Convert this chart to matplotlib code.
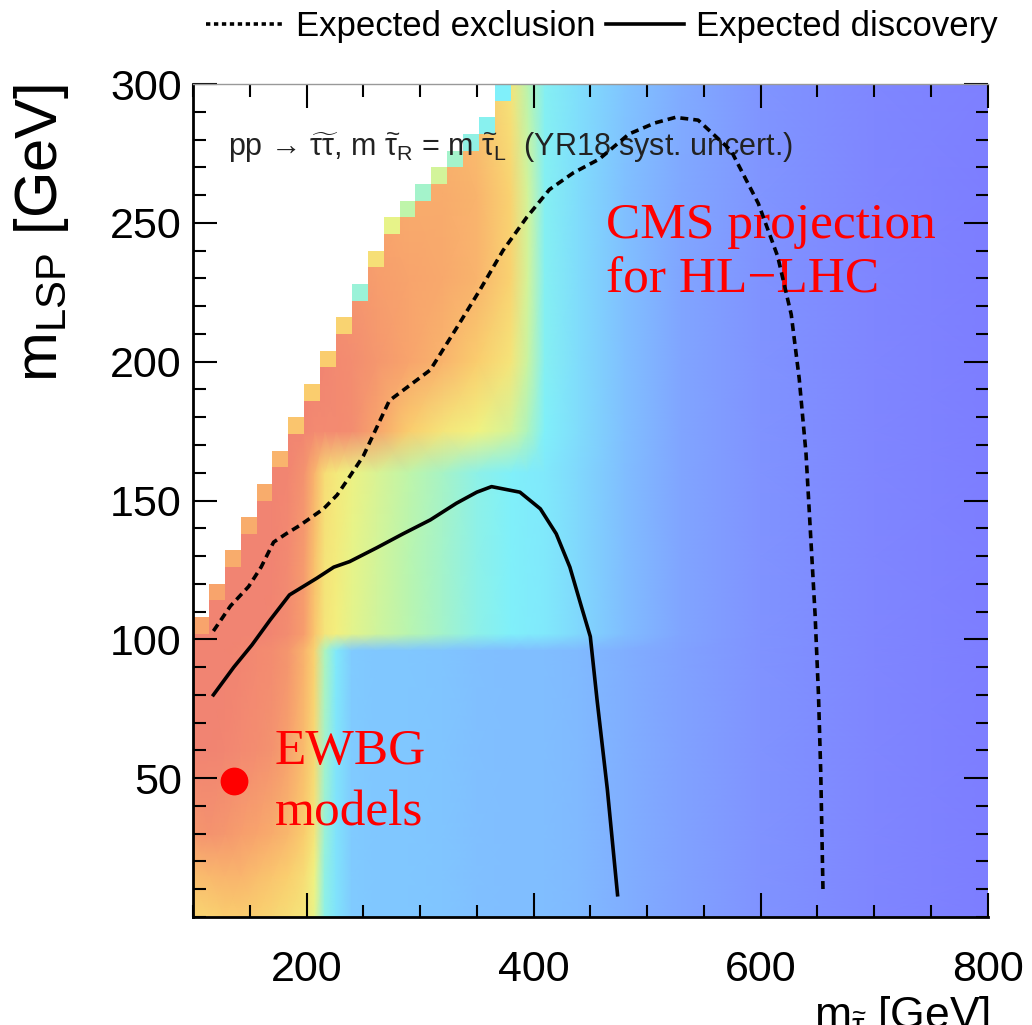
import matplotlib
matplotlib.use("Agg")
import matplotlib.pyplot as plt
import numpy as np
from matplotlib.colors import LinearSegmentedColormap
from matplotlib.lines import Line2D
from matplotlib.ticker import MultipleLocator

# ---- data ------------------------------------------------------------------
# heat map nodes (GeV) and colour level (0 = violet ... 100 = red)
stau_nodes = [100, 114, 128, 142, 156, 170, 184, 198, 207, 216, 226, 240, 262,
              290, 320, 350, 380, 395, 410, 440, 480, 530, 600, 700, 800]
lsp_nodes = [0, 15, 30, 60, 90, 96, 102, 130, 160, 175, 200, 230, 260, 300]
signal_levels = [
    [76, 76, 78, 78, 77, 75, 73, 70, 64, 45, 38, 31, 30, 30, 29, 28, 27, 27, 27, 26, 23, 19, 13, 6, 1],
    [82, 83, 84, 84, 82, 80, 77, 73, 66, 46, 38, 31, 30, 30, 29, 28, 27, 27, 27, 26, 23, 19, 13, 6, 1],
    [92, 93, 92, 90, 88, 86, 83, 78, 70, 48, 38, 31, 30, 30, 29, 28, 27, 27, 27, 26, 23, 19, 13, 6, 1],
    [98, 98, 97, 96, 95, 93, 89, 82, 74, 50, 39, 31, 30, 30, 29, 28, 27, 27, 27, 26, 23, 19, 13, 6, 1],
    [98, 98, 98, 97, 96, 95, 92, 84, 76, 52, 40, 31, 30, 30, 29, 28, 27, 27, 27, 26, 23, 19, 13, 6, 1],
    [98, 98, 98, 97, 96, 95, 92, 84, 76, 52, 40, 31, 30, 30, 29, 28, 27, 27, 27, 26, 23, 19, 13, 6, 1],
    [98, 98, 98, 98, 98, 97, 95, 90, 80, 70, 67, 63, 59, 55, 50, 45, 42, 41, 40, 35, 27, 20, 13, 6, 1],
    [98, 98, 98, 98, 98, 98, 96, 91, 81, 71, 68, 64, 60, 55, 50, 45, 42, 41, 40, 35, 27, 20, 13, 6, 1],
    [98, 98, 98, 98, 98, 98, 97, 93, 84, 73, 69, 65, 61, 56, 51, 45, 42, 41, 40, 35, 27, 20, 13, 6, 1],
    [98, 98, 98, 98, 98, 98, 98, 97, 96, 96, 96, 95, 88, 78, 70, 66, 60, 52, 42, 36, 28, 20, 13, 6, 1],
    [98, 98, 98, 98, 98, 98, 98, 98, 98, 97, 96, 95, 92, 88, 84, 78, 70, 58, 43, 36, 28, 20, 13, 6, 1],
    [95, 95, 95, 95, 95, 95, 95, 95, 95, 95, 94, 92, 90, 88, 87, 84, 76, 60, 43, 36, 28, 20, 13, 6, 1],
    [90, 90, 90, 90, 90, 90, 90, 90, 90, 90, 90, 90, 88, 86, 86, 84, 76, 60, 43, 36, 28, 21, 14, 6, 1],
    [85, 85, 85, 85, 85, 85, 85, 85, 85, 85, 85, 85, 85, 85, 84, 80, 70, 55, 43, 37, 29, 22, 14, 7, 2],
]

# upper kinematic edge of the scanned region, one value per 14 GeV column,
# and the lighter colour level of the top cell in each column
column_width = 14
rim_height = 6
edge_top = [108, 120, 132, 144, 156, 168, 180, 192, 204, 216, 228, 240,
            252, 258, 264, 270, 276, 282, 288, 300]
rim_levels = [88, 88, 86, 86, 86, 84, 80, 78, 78, 76, 48, 72, 64, 56, 50,
              60, 50, 46, 44, 42]

excl_x = [118, 133, 149, 160, 171, 182, 194, 215, 227, 237, 250, 273, 309, 332,
          353, 373, 394, 414, 435, 458, 484, 507, 525, 545, 574, 598, 615, 627,
          634, 640, 644, 648, 651, 653, 655]
excl_y = [103, 112, 119, 126, 135, 138, 141, 147, 152, 158, 166, 186, 197, 212,
          226, 240, 252, 262, 268, 273, 282, 286, 288, 287, 276, 257, 238, 217,
          194, 167, 138, 109, 80, 52, 9]

disc_x = [118, 136, 152, 168, 185, 209, 224, 238, 262, 285, 309, 332, 350, 363,
          388, 406, 420, 432, 442, 450, 456, 465, 474]
disc_y = [80, 90, 98, 107, 116, 122, 126, 128, 133, 138, 143, 149, 153, 155,
          153, 147, 138, 126, 112, 101, 78, 46, 8]

ewbg_point = (136, 49)

x_ticks = [200, 400, 600, 800]
y_ticks = [50, 100, 150, 200, 250, 300]

# ---- style -----------------------------------------------------------------
plt.rcParams["font.family"] = ["Liberation Sans", "DejaVu Sans"]
plt.rcParams["mathtext.fontset"] = "custom"
plt.rcParams["mathtext.rm"] = "Liberation Sans"
plt.rcParams["mathtext.it"] = "Liberation Sans"
plt.rcParams["mathtext.bf"] = "Liberation Sans:bold"

palette = LinearSegmentedColormap.from_list(
    "pale_rainbow",
    [
        (0.00, (125 / 255, 125 / 255, 1.0)),
        (0.10, (128 / 255, 140 / 255, 1.0)),
        (0.20, (128 / 255, 165 / 255, 1.0)),
        (0.30, (128 / 255, 200 / 255, 1.0)),
        (0.42, (128 / 255, 240 / 255, 250 / 255)),
        (0.55, (185 / 255, 245 / 255, 175 / 255)),
        (0.66, (242 / 255, 242 / 255, 128 / 255)),
        (0.78, (250 / 255, 205 / 255, 110 / 255)),
        (0.88, (248 / 255, 165 / 255, 108 / 255)),
        (1.00, (240 / 255, 125 / 255, 115 / 255)),
    ],
)

fig = plt.figure(figsize=(10.32, 10.25), dpi=100)
ax = fig.add_axes([0.187, 0.1054, 0.770, 0.8126])

X, Y = np.meshgrid(stau_nodes, lsp_nodes)
ax.pcolormesh(X, Y, np.array(signal_levels) / 100.0, cmap=palette, vmin=0, vmax=1,
              shading="gouraud", zorder=0, rasterized=True)

# blank out the region above the kinematic edge
col_left = 100 + column_width * np.arange(len(edge_top) + 1)
top_vals = np.append(edge_top, edge_top[-1])
ax.fill_between(col_left, top_vals, 300, step="post", color="white", lw=0, zorder=1)

# lighter cells along the edge
rim_bottom = np.array(edge_top) - rim_height
ax.bar(col_left[:-1], rim_height, width=column_width, bottom=rim_bottom, align="edge",
       color=palette(np.array(rim_levels) / 100.0), lw=0, zorder=1)

ax.text(131, 274,
        "pp \u2192 " + r"$\widetilde{\tau\tau}$, m $\widetilde{\tau}_{\mathrm{R}}$ = m $\widetilde{\tau}_{\mathrm{L}}$  (YR18 syst. uncert.)",
        fontsize=22, color="#222222", va="baseline", ha="left", zorder=2)

ax.plot(excl_x, excl_y, color="black", lw=2.6, ls=(0, (2.2, 1.4)), zorder=4)
ax.plot(disc_x, disc_y, color="black", lw=2.6, zorder=4)

serif = ["Liberation Serif", "DejaVu Serif"]
ax.text(464, 244.6, "CMS projection", family=serif, fontsize=37, color="red",
        va="baseline", zorder=3)
ax.text(464, 224.8, "for HL\u2212LHC", family=serif, fontsize=37, color="red",
        va="baseline", zorder=3)
ax.text(172, 55, "EWBG", family=serif, fontsize=37, color="red", va="baseline", zorder=3)
ax.text(172, 33, "models", family=serif, fontsize=37, color="red", va="baseline", zorder=3)
ax.plot(*ewbg_point, "o", color="red", ms=19, zorder=5)

ax.set_xlim(100, 800)
ax.set_ylim(0, 300)
ax.set_xticks(x_ticks)
ax.set_yticks(y_ticks)
ax.xaxis.set_minor_locator(MultipleLocator(50))
ax.yaxis.set_minor_locator(MultipleLocator(10))
ax.tick_params(which="both", direction="in", top=True, right=True, width=1.5)
ax.tick_params(which="major", length=17)
ax.tick_params(which="minor", length=9)
ax.tick_params(axis="x", labelsize=31, pad=24)
ax.tick_params(axis="y", labelsize=31, pad=8)

for side in ("left", "bottom"):
    ax.spines[side].set_linewidth(2)
ax.spines["top"].set_color("#999999")
ax.spines["top"].set_linewidth(1)
ax.spines["right"].set_visible(False)

fig.text(0.040, 0.918, r"m$_{\mathrm{LSP}}$ [GeV]", rotation=90, fontsize=43,
         ha="center", va="top")
fig.text(0.959, -0.003, r"m$_{\widetilde{\tau}}$ [GeV]", fontsize=32,
         ha="right", va="baseline")

handles = [Line2D([], [], color="black", lw=2.6, ls=(0, (1.2, 1.0))),
           Line2D([], [], color="black", lw=2.6)]
fig.legend(handles, ["Expected exclusion", "Expected discovery"], loc="center",
           bbox_to_anchor=(0.583, 0.974), ncol=2, frameon=False, fontsize=25,
           handlelength=2.25, handletextpad=0.35, columnspacing=0.3)

fig.savefig("out.png", dpi=100)
